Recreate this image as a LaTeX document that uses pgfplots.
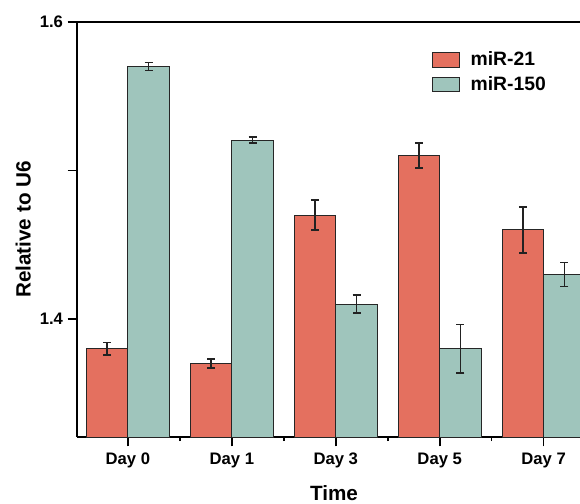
\documentclass[border=0pt]{standalone}
\usepackage{fontspec}
\setmainfont{Liberation Sans}
\usepackage{pgfplots}
\pgfplotsset{compat=1.18}

\definecolor{mirred}{HTML}{E4705F}
\definecolor{mirteal}{HTML}{9FC5BC}
\definecolor{errgray}{HTML}{222222}

\begin{document}
\begin{tikzpicture}
\clip (0,0) rectangle (435pt,377.25pt);
\begin{axis}[
  name=ax, at={(57.75pt,49.5pt)}, anchor=south west,
  scale only axis, width=377.25pt, height=311.25pt,
  xmin=-0.49, xmax=4.35, ymin=1.3205, ymax=1.6,
  axis x line*=box, axis y line*=left,
  xtick pos=left, ytick pos=left,
  axis line style={line width=1.5pt, black},
  ybar=0pt, bar width=0.4,
  xtick={0,...,4}, xticklabels={Day 0,Day 1,Day 3,Day 5,Day 7},
  minor xtick={0.5,1.5,2.5,3.5},
  ytick={1.4,1.5,1.6}, yticklabels={1.4,,1.6},
  tick align=outside, major tick length=7pt, minor tick length=3pt,
  tick style={line width=1.2pt, black},
  /pgf/number format/assume math mode=true,
  tick label style={font=\bfseries\fontsize{12.5}{15}\selectfont},
  xticklabel style={yshift=-1.5pt},
  xlabel={Time}, ylabel={Relative to U6},
  label style={font=\bfseries\fontsize{15.5}{18}\selectfont},
  xlabel style={at={(axis description cs:0.511,-0.1518)}, anchor=base},
  ylabel style={at={(axis description cs:-0.107,0.5)}, anchor=center},
  legend cell align=left,
  legend style={draw=none, fill=none, at={(axis description cs:0.7058,0.935)},
    anchor=north west, inner sep=0pt, row sep=2.5pt, column sep=6pt,
    font=\bfseries\fontsize{14.5}{17}\selectfont},
  legend image code/.code={\draw[#1] (0pt,-5.5pt) rectangle (20pt,5.5pt);},
  every axis plot/.append style={draw=black!85, line width=0.75pt},
]
\addplot[fill=mirred, draw=black!85,
  error bars/.cd, y dir=both, y explicit,
  error bar style={line width=1.1pt, color=errgray},
  error mark options={rotate=90, mark size=3pt, line width=1.1pt, color=errgray}]
  coordinates {
    (0,1.380) +- (0,0.0043)
    (1,1.370) +- (0,0.0030)
    (2,1.470) +- (0,0.0100)
    (3,1.510) +- (0,0.0084)
    (4,1.460) +- (0,0.0155)
  };
\addplot[fill=mirteal, draw=black!85,
  error bars/.cd, y dir=both, y explicit,
  error bar style={line width=1.1pt, color=errgray},
  error mark options={rotate=90, mark size=3pt, line width=1.1pt, color=errgray}]
  coordinates {
    (0,1.5700) +- (0,0.0028)
    (1,1.5205) +- (0,0.0020)
    (2,1.4100) +- (0,0.0060)
    (3,1.3800) +- (0,0.0164)
    (4,1.4300) +- (0,0.0080)
  };
\legend{miR-21, miR-150}
\end{axis}
\end{tikzpicture}
\end{document}
